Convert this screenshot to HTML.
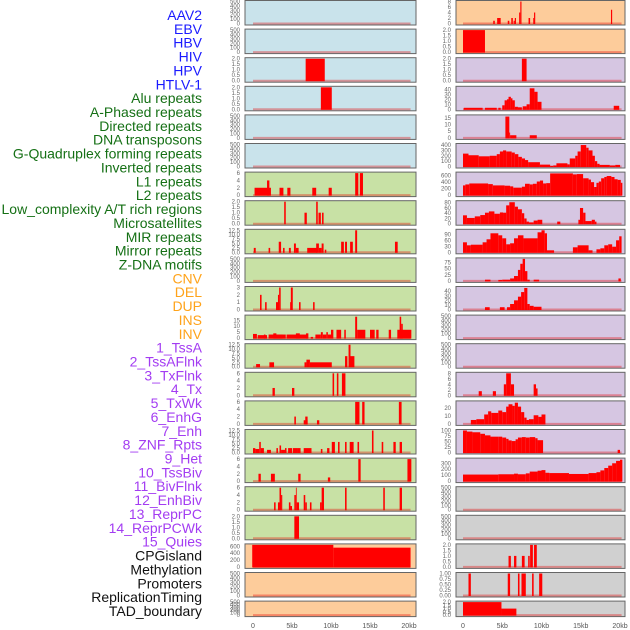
<!DOCTYPE html>
<html><head><meta charset="utf-8"><style>
html,body{margin:0;padding:0;background:#fff;width:630px;height:630px;overflow:hidden}
svg{display:block;font-family:"Liberation Sans",sans-serif}
</style></head><body>
<svg id="chart" width="630" height="630" viewBox="0 0 630 630"></svg>
<script>
const trackLabels = ["AAV2","EBV","HBV","HIV","HPV","HTLV-1","Alu repeats","A-Phased repeats","Directed repeats","DNA transposons","G-Quadruplex forming repeats","Inverted repeats","L1 repeats","L2 repeats","Low_complexity A/T rich regions","Microsatellites","MIR repeats","Mirror repeats","Z-DNA motifs","CNV","DEL","DUP","INS","INV","1_TssA","2_TssAFlnk","3_TxFlnk","4_Tx","5_TxWk","6_EnhG","7_Enh","8_ZNF_Rpts","9_Het","10_TssBiv","11_BivFlnk","12_EnhBiv","13_ReprPC","14_ReprPCWk","15_Quies","CPGisland","Methylation","Promoters","ReplicationTiming","TAD_boundary"];
const labelColors = ["#1a1aff","#1a1aff","#1a1aff","#1a1aff","#1a1aff","#1a1aff","#157015","#157015","#157015","#157015","#157015","#157015","#157015","#157015","#157015","#157015","#157015","#157015","#157015","#ffa31a","#ffa31a","#ffa31a","#ffa31a","#ffa31a","#a33cf2","#a33cf2","#a33cf2","#a33cf2","#a33cf2","#a33cf2","#a33cf2","#a33cf2","#a33cf2","#a33cf2","#a33cf2","#a33cf2","#a33cf2","#a33cf2","#a33cf2","#111","#111","#111","#111","#111"];
const xTickValues = [0,5,10,15,20];
const xTickLabels = ["0","5kb","10kb","15kb","20kb"];

const leftBg = ["blue","blue","blue","blue","blue","blue","green","green","green","green","green","green","green","green","green","green","green","green","green","orange","orange","orange"];
const leftYmax = [500,500,2,2,500,500,6,2,12.5,500,3,18.5,12.5,6,6,12.5,6,6,2,640,500,500];
const leftTicks = [
[0,100,200,300,400,500],[0,100,200,300,400,500],[0,0.5,1,1.5,2],[0,0.5,1,1.5,2],[0,100,200,300,400,500],[0,100,200,300,400,500],
[0,2,4,6],[0,0.5,1,1.5,2],[0,2.5,5,7.5,10,12.5],[0,100,200,300,400,500],[0,1,2,3],[0,5,10,15],[0,2.5,5,7.5,10,12.5],[0,2,4,6],[0,2,4,6],[0,2.5,5,7.5,10,12.5],[0,2,4,6],[0,2,4,6],[0,0.5,1,1.5,2],[0,200,400,600],[0,100,200,300,400,500],[0,100,200,300,400,500]];
const leftSeries = [
[],[],
[[6.75,9.2,2]],
[[8.7,10.1,2]],
[],[],
[[0.2,2.3,2],[1.8,2.1,4],[3.4,3.9,2],[4.4,4.8,2],[7.6,8.1,2],[9.7,10.1,2],[13.1,13.5,6],[13.7,14.1,6]],
[[4.0,4.2,2],[6.6,6.9,1],[8.1,8.3,2],[8.4,8.7,1],[8.85,9.05,1]],
[[0.1,0.35,2.5],[2.0,2.2,2.5],[3.3,3.6,6],[3.85,4.05,2.5],[4.6,4.85,2.5],[5.25,5.5,5],[5.5,5.85,2.5],[6.95,8.2,2.5],[8.1,8.45,5],[8.45,8.8,2.5],[8.8,9.05,5],[9.2,9.4,1.5],[11.3,11.65,6],[11.8,12.05,6],[12.45,12.8,6],[13.1,13.35,12.5],[18.2,18.55,6]],
[],
[[0.9,1.1,2],[1.55,1.75,1],[2.95,3.35,1],[3.2,3.35,2],[3.35,3.55,3],[4.75,4.85,1],[4.85,5.1,3],[5.9,6.1,1],[7.7,7.9,1]],
[[0,0.5,3.5],[0.6,1.8,2.5],[1.4,1.6,3],[2,3.8,3],[2.6,3,4],[3,4.2,3],[4.3,7,3],[5.5,6,4],[6.8,7.1,4],[7.4,7.7,1],[8,8.7,3],[8.7,8.95,5],[8.95,9.4,3],[9.4,9.6,5],[9.6,10,3],[10,10.3,7],[10.7,11.3,7],[11.7,11.9,7],[13.1,13.35,18],[13.35,14.4,7],[15,15.6,7],[15.8,16.1,7],[17.4,17.7,7],[18.5,20.3,7],[18.8,19,18],[19,19.2,12]],
[[0.4,0.9,1.5],[2.1,2.7,2.5],[6.6,6.85,2.5],[6.85,7.3,4],[7.3,10.1,2.5],[11.8,12.1,6],[12.25,12.5,12.5],[12.5,13,6]],
[[2.5,2.8,2],[5.0,5.3,2],[10.2,10.4,6],[10.75,10.95,6],[11.4,11.85,6]],
[[5.3,5.5,2],[6.5,7.0,1],[6.7,7.0,2],[8.2,8.5,1],[13.1,13.65,6],[14.0,14.3,6],[18.7,19.05,6]],
[[0,0.3,2.5],[0.3,0.8,2],[0.8,1,6],[1,1.4,2.5],[1.8,2.3,1.5],[3,3.2,2.5],[3.4,3.6,4],[3.6,4.1,1.5],[4.1,4.3,2.5],[4.5,5,2.5],[5.1,5.7,2.5],[5.7,6.1,2.5],[6.5,7.5,2.5],[8.7,8.9,2],[9.5,9.8,2.5],[10.1,10.5,6],[10.9,11.1,6],[11.8,12,6],[12.4,12.9,6],[13.4,13.6,6],[15.25,15.45,12.5],[16.5,16.7,6],[18.0,18.3,6],[18.8,19.1,6]],
[[0.7,1,2],[2.3,2.8,2],[5.8,6.1,2],[9.6,9.9,1],[13.5,13.8,6],[19.8,20.3,6]],
[[2.7,2.9,2],[3.2,3.4,2],[3.4,3.6,6],[3.6,3.75,4],[4.6,4.8,2],[4.8,5,1],[5.3,5.5,4],[5.5,5.6,6],[5.6,5.9,2],[6.5,6.7,4],[6.7,6.9,2],[7.3,7.5,2],[8.6,8.8,2],[8.8,9.1,6],[11.8,12,6],[16.7,16.9,6],[18.8,19.1,6]],
[[5.3,5.9,2]],
[[-0.1,10.3,640],[10.3,20.2,560]],
[],[]
];

const rightBg = ["orange","orange","purple","purple","purple","purple","purple","purple","purple","purple","purple","purple","purple","purple","purple","purple","purple","gray","gray","gray","gray","gray"];
const rightYmax = [8,2,2,44,16.5,410,680,84,110,90,48,500,500,8,28,100,370,500,500,2,1,2];
const rightTicks = [
[0,2,4,6,8],[0,0.5,1,1.5,2],[0,0.5,1,1.5,2],[0,10,20,30,40],[0,5,10,15],[0,100,200,300,400],[0,200,400,600],[0,20,40,60,80],[0,30,60,90],[0,25,50,75],[0,10,20,30,40],[0,100,200,300,400,500],[0,100,200,300,400,500],[0,2,4,6,8],[0,10,20],[0,25,50,75,100],[0,100,200,300],[0,100,200,300,400,500],[0,100,200,300,400,500],[0,0.5,1,1.5,2],[0,0.25,0.5,0.75,1],[0,0.5,1,1.5,2]];
const rightSeries = [
[[3.85,4.05,1],[4.35,4.8,2],[5.7,5.9,1],[6.15,6.35,2],[6.45,6.6,1],[6.6,6.75,2],[7.15,7.3,4],[7.3,7.45,8],[8.35,8.55,2],[8.95,9.05,2],[9.05,9.2,4],[18.85,19.0,5]],
[[0,2.8,2]],
[[7.5,8.1,2]],
[[0.1,2.5,3],[2.8,4.3,3],[4.5,4.8,3],[5.0,5.3,8],[5.3,5.6,18],[5.6,5.8,20],[5.8,6.1,25],[6.1,6.3,22],[6.3,6.6,18],[6.6,7.0,5],[7.0,7.5,4],[7.6,8.1,6],[8.1,8.5,10],[8.5,9.1,42],[9.1,9.5,35],[9.5,10.0,15],[19.2,19.9,7]],
[[5.4,5.9,16],[5.9,6.0,4],[6.0,6.8,2],[8.5,9.4,2]],
[[0,0.7,240],[0.7,2,210],[2,3.4,190],[3.4,4.3,200],[4.3,4.7,230],[4.7,5.1,280],[5.1,5.5,300],[5.5,6.2,280],[6.2,6.6,260],[6.6,7.05,230],[7.05,7.5,180],[7.5,7.9,150],[7.9,8.3,120],[8.3,9.8,80],[9.8,11.1,35],[11.1,11.5,10],[11.5,11.9,20],[11.9,13.3,60],[13.3,13.6,40],[13.6,14.3,150],[14.3,14.6,200],[14.6,15.0,280],[15.0,15.7,400],[15.7,16.0,350],[16.0,16.5,300],[16.5,16.8,200],[16.8,17.1,100],[17.1,17.4,50],[17.4,18.7,30],[18.7,19.4,20],[19.4,20,30]],
[[0,0.3,300],[0.3,0.8,330],[0.8,3.2,360],[3.2,3.8,340],[3.8,5.3,300],[5.3,6.0,290],[6.0,6.4,270],[6.4,7.5,230],[7.5,7.9,260],[7.9,8.5,350],[8.5,8.9,330],[8.9,9.4,350],[9.4,9.8,420],[9.8,10.2,450],[10.2,10.6,360],[10.6,11.1,370],[11.1,14.0,670],[14.0,14.5,640],[14.5,15.3,650],[15.3,16,520],[16,16.3,480],[16.3,16.7,400],[16.7,17.0,250],[17.0,17.3,380],[17.3,17.6,420],[17.6,18.0,520],[18.0,18.3,560],[18.3,18.9,590],[18.9,19.3,560],[19.3,19.7,490],[19.7,20.1,470],[20.1,20.3,380]],
[[0,0.5,32],[0.5,1.5,22],[1.5,2.2,28],[2.2,2.8,33],[2.8,3.3,42],[3.3,4.0,47],[4.0,4.7,38],[4.7,5.1,43],[5.1,5.5,42],[5.5,5.9,70],[5.9,6.6,82],[6.6,7.0,65],[7.0,7.5,55],[7.5,7.8,40],[7.8,8.1,20],[8.1,8.4,8],[8.4,9.0,5],[9.0,9.5,12],[9.5,10.1,15],[12.0,12.4,8],[14.7,14.9,15],[14.9,15.3,60],[15.3,15.6,42],[15.6,16.4,10],[16.4,16.8,15],[16.8,17.0,8]],
[[0,0.5,50],[0.5,1.0,35],[1.0,2.5,38],[2.5,3.0,50],[3.0,3.5,65],[3.5,4.5,95],[4.5,5.0,85],[5.0,5.5,70],[5.5,6.0,40],[6.0,6.5,45],[6.5,7.0,70],[7.0,7.7,85],[7.7,9.5,70],[9.5,10.0,100],[10.0,10.4,110],[10.4,10.7,95],[10.7,11.6,10],[14.0,14.6,25],[14.6,16.0,35],[16.0,16.5,10],[17.0,17.5,15],[17.5,18.0,20],[18.0,18.5,35],[18.5,19.0,40],[19.0,19.5,28],[19.5,19.9,60],[19.9,20.2,80]],
[[2.8,3.5,5],[4.5,5.0,4],[5.0,6.0,5],[6.0,6.5,10],[6.5,7.0,20],[7.0,7.3,45],[7.3,7.6,70],[7.6,7.9,90],[7.9,8.2,40],[8.2,8.5,5],[9.0,9.7,5],[19.8,20.1,10]],
[[2.8,3.4,5],[4.7,5.3,5],[5.6,6.0,5],[6.0,6.5,12],[6.5,7.0,20],[7.0,7.4,28],[7.4,7.8,38],[7.8,8.2,47],[8.2,8.5,12],[8.5,9.0,8],[9.0,10.0,6]],
[],[],
[[2.0,2.4,1.5],[3.8,4.2,1.5],[5.2,5.5,4],[5.5,6.1,8],[6.1,6.5,4],[9.0,9.3,4],[9.3,9.5,2.5]],
[[1.0,1.7,5],[1.7,2.7,6],[2.7,3.2,12],[3.2,3.6,16],[3.6,4.5,14],[4.5,5.0,17],[5.0,5.5,15],[5.5,5.8,22],[5.8,6.3,25],[6.3,6.6,23],[6.6,7.0,27],[7.0,7.4,22],[7.4,7.8,15],[7.8,8.1,8],[8.1,8.4,5],[8.4,9.0,6],[9.0,9.6,11],[9.6,10.0,9],[10.0,10.5,12]],
[[0,0.5,100],[0.5,1.2,95],[1.2,2.2,92],[2.2,2.8,85],[2.8,3.5,78],[3.5,4.5,72],[4.5,5.0,72],[5.0,5.5,68],[5.5,5.8,62],[5.8,6.2,55],[6.2,6.7,52],[6.7,7.0,60],[7.0,7.5,68],[7.5,8.0,70],[8.0,8.5,68],[8.5,9.2,70],[9.2,9.5,65],[9.5,10.2,56],[19.7,20.0,12]],
[[0,4.5,110],[4.5,6.5,115],[6.5,7.0,125],[7.0,8.0,115],[8.0,8.5,130],[8.5,9.5,160],[9.5,10.0,175],[10.0,10.5,185],[10.5,11.0,140],[11.0,13.5,135],[13.5,16.0,120],[16.0,17.0,135],[17.0,17.5,150],[17.5,18.0,180],[18.0,18.5,220],[18.5,19.0,260],[19.0,19.5,300],[19.5,20.0,340],[20.0,20.3,360]],
[],[],
[[5.8,6.1,1],[6.5,6.8,1],[7.5,7.85,1],[8.3,8.5,1],[8.55,8.9,2],[9.05,9.4,2]],
[[0.7,1.0,1],[5.7,6.0,1],[7.0,7.2,1],[7.45,8.0,1],[8.8,9.0,1],[9.7,10.1,1]],
[[0,4.9,2],[4.9,6.8,1]]
];

const NS = "http://www.w3.org/2000/svg";
const svg = document.getElementById("chart");
const bgColors = {blue:"#c9e3eb",green:"#c8e1a5",orange:"#fdcc9b",purple:"#d6c6e2",gray:"#d0d0d0"};
function mk(tag, attrs, parent){ const e=document.createElementNS(NS,tag); for(const k in attrs) e.setAttribute(k,attrs[k]); (parent||svg).appendChild(e); return e; }
function decimalsOf(arr){ let d=0; arr.forEach(v=>{ const s=String(v); if(s.indexOf('.')>=0) d=Math.max(d,s.split('.')[1].length); }); return d; }

trackLabels.forEach((t,i)=>{
  const el = mk("text",{x:202,y:15+i*13.86+5,"text-anchor":"end","font-size":"14",fill:labelColors[i]});
  el.textContent = t;
  
  
});

const cols = [
  {x0:245,x1:416,z0:253,z20:409,bg:leftBg,ymax:leftYmax,ticks:leftTicks,series:leftSeries,tickX:240,name:"left"},
  {x0:456,x1:625,z0:463,z20:620,bg:rightBg,ymax:rightYmax,ticks:rightTicks,series:rightSeries,tickX:451,name:"right"}
];
cols.forEach(c=>{
  const xs = kb => c.z0 + kb*(c.z20-c.z0)/20;
  for(let i=0;i<22;i++){
    const top = 0.5 + i*28.6;
    const h = i===21 ? 15.5 : 24.5;
    const g = mk("g",{});
    
    
    mk("rect",{x:c.x0,y:top,width:c.x1-c.x0,height:h,fill:bgColors[c.bg[i]],stroke:"#666","stroke-width":1},g);
    const base = top+h-1.5;
    const inner = h-2.5;
    const ys = v => base - v/c.ymax[i]*inner;
    const bl = mk("line",{x1:xs(0),x2:xs(20.2),y1:base,y2:base,stroke:"rgba(230,0,0,0.35)","stroke-width":2},g);
    
    
    c.series[i].forEach(s=>{
      const v = Math.min(s[2], c.ymax[i]);
      const r = mk("rect",{x:xs(s[0]),y:ys(v),width:Math.max(0.8,xs(s[1])-xs(s[0])),height:base-ys(v)+0.5,fill:"#ff0000"},g);
      
      
    });
    const dec = decimalsOf(c.ticks[i]);
    c.ticks[i].forEach(t=>{
      const tl = mk("text",{x:c.tickX,y:ys(t)+2,"text-anchor":"end","font-size":"6",fill:"#666"},g);
      tl.textContent = t.toFixed(dec);
      
      
    });
  }
  xTickValues.forEach((v,k)=>{
    const t = mk("text",{x:xs(v),y:628,"text-anchor":"middle","font-size":"7",fill:"#555"});
    t.textContent = xTickLabels[k];
    
    
  });
});
</script>
</body></html>
